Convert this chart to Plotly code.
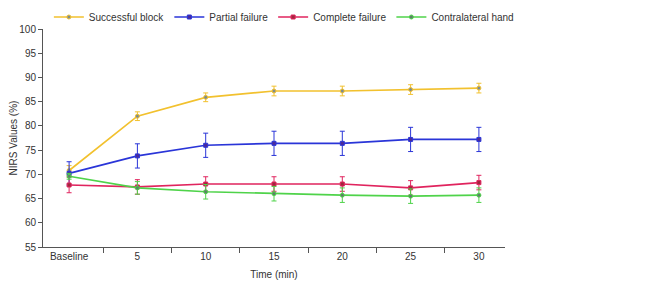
import plotly.graph_objects as go

categories = ["Baseline", "5", "10", "15", "20", "25", "30"]

successful = [70.8, 82.0, 85.9, 87.2, 87.2, 87.5, 87.8]
successful_err = [1.0, 0.9, 0.9, 1.0, 1.0, 1.0, 1.0]

partial = [70.2, 73.8, 76.0, 76.4, 76.4, 77.2, 77.2]
partial_err = [2.4, 2.5, 2.5, 2.5, 2.5, 2.5, 2.5]

complete = [67.8, 67.4, 68.0, 68.0, 68.0, 67.2, 68.3]
complete_err = [1.6, 1.5, 1.5, 1.5, 1.5, 1.5, 1.5]

contralateral = [69.6, 67.2, 66.4, 66.0, 65.7, 65.5, 65.7]
contralateral_err = [0.6, 1.3, 1.5, 1.5, 1.5, 1.5, 1.5]

series = [
    ("Successful block", successful, successful_err, "#f2c12e", "#7f8c8d", "circle"),
    ("Partial failure", partial, partial_err, "#2a35d8", "#4b2a9a", "square"),
    ("Complete failure", complete, complete_err, "#e0245e", "#a0283c", "square"),
    ("Contralateral hand", contralateral, contralateral_err, "#4fd34a", "#5f7f6a", "circle"),
]

FONT = "Liberation Sans, Arial, sans-serif"

fig = go.Figure()
for name, vals, errs, color, mcolor, sym in series:
    fig.add_trace(go.Scatter(
        x=categories, y=vals, name=name, mode="lines+markers",
        line=dict(color=color, width=1.7),
        marker=dict(symbol=sym, size=4, color=mcolor, line=dict(color=color, width=1)),
        error_y=dict(type="data", array=errs, visible=True, color=color, thickness=1, width=2.5),
    ))

fig.update_layout(
    width=671, height=291,
    margin=dict(l=35, r=174, t=21, b=52, autoexpand=False),
    plot_bgcolor="white", paper_bgcolor="white",
    font=dict(family=FONT, size=10, color="#333333"),
    showlegend=True,
    legend=dict(orientation="h",
                x=1.03, xanchor="right", y=1.055, yanchor="middle",
                font=dict(size=10, color="#333333"), itemwidth=30,
                bgcolor="rgba(0,0,0,0)", tracegroupgap=0),
    xaxis=dict(
        type="category", showgrid=False, showline=True, linecolor="#555555", linewidth=1,
        ticks="outside", tickson="boundaries", ticklen=5, tickcolor="#555555",
        title=dict(text="Time (min)", font=dict(size=10), standoff=9),
        zeroline=False,
    ),
    yaxis=dict(
        range=[55, 100], dtick=5, showgrid=False, showline=True, linecolor="#555555", linewidth=1,
        ticks="outside", ticklen=4, tickcolor="#555555",
        title=dict(text="NIRS Values (%)", font=dict(size=10), standoff=1),
        zeroline=False,
    ),
)

fig.write_html("out.html")
